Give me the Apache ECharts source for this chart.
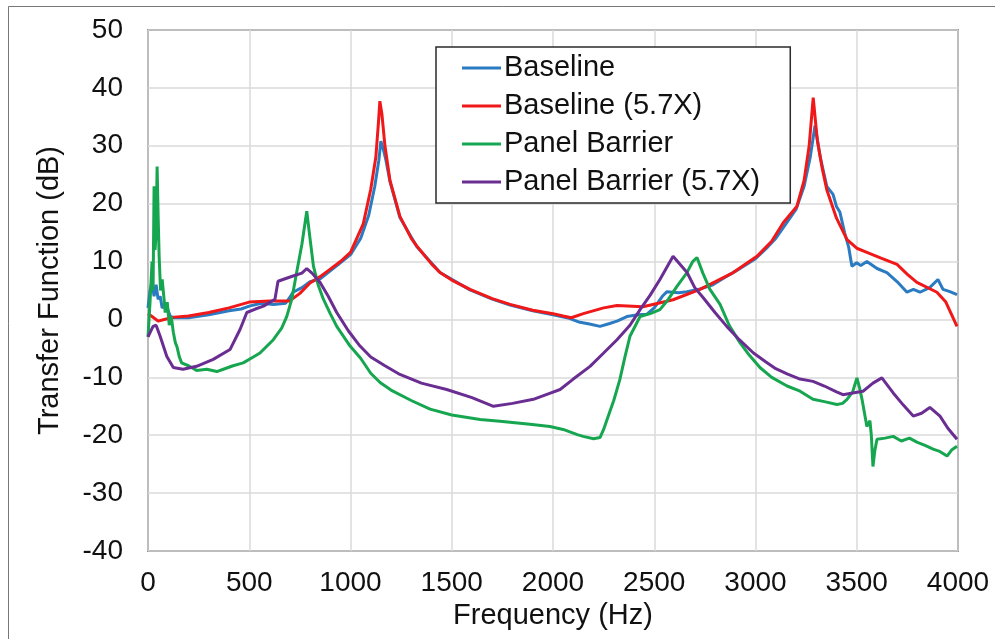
<!DOCTYPE html>
<html>
<head>
<meta charset="utf-8">
<script src="https://cdn.jsdelivr.net/npm/echarts@6/dist/echarts.min.js"></script>
<style>
html,body{margin:0;padding:0;background:#fff;}
#chart{width:995px;height:639px;}
</style>
</head>
<body>
<div id="chart"></div>
<script>
const seriesNames = ['Baseline', 'Baseline (5.7X)', 'Panel Barrier', 'Panel Barrier (5.7X)'];
const xTicks = [0, 500, 1000, 1500, 2000, 2500, 3000, 3500, 4000];
const yTicks = [-40, -30, -20, -10, 0, 10, 20, 30, 40, 50];

const baseline = [[0,2],[10,5],[20,6.5],[30,4],[40,6],[50,3.5],[60,4],[70,2],[90,2.5],[110,0.5],[130,0.3],[200,0.3],[300,0.8],[400,1.5],[460,1.8],[500,2.3],[560,2.8],[620,2.6],[680,2.8],[700,3.8],[716,4.7],[760,5.5],[800,6.5],[850,7],[900,8.4],[950,9.8],[1000,11.2],[1050,14],[1090,18],[1120,23],[1140,27.5],[1150,30.8],[1165,29],[1175,27.5],[1195,23.8],[1244,17.6],[1327,12.6],[1442,8.1],[1590,5.1],[1700,3.5],[1788,2.5],[1900,1.5],[2000,0.8],[2080,0.2],[2133,-0.5],[2180,-0.8],[2232,-1.2],[2280,-0.7],[2316,-0.3],[2365,0.5],[2420,0.8],[2464,0.9],[2500,2],[2540,4],[2563,4.8],[2620,4.6],[2662,4.8],[2720,5.2],[2790,6],[2850,7.3],[2900,8.3],[3000,10.5],[3060,12.5],[3100,14],[3150,16.5],[3200,19],[3240,23],[3270,28],[3294,33.5],[3320,28],[3352,23],[3383,21.6],[3400,19.5],[3417,18.5],[3440,15],[3460,12.5],[3476,9.2],[3500,9.8],[3520,9.3],[3550,10],[3600,8.8],[3649,8.1],[3700,6.5],[3748,4.7],[3780,5.2],[3812,4.7],[3860,5.5],[3901,6.9],[3926,5.2],[3960,4.8],[3995,4.3]];

const baseline57 = [[0,1],[20,0.5],[50,-0.3],[80,0],[130,0.4],[200,0.6],[300,1.2],[400,2],[500,3],[600,3.2],[700,3.2],[750,4.5],[800,6.3],[850,7.4],[900,8.7],[950,10],[1000,11.6],[1063,16.5],[1100,22.5],[1125,28],[1138,34],[1145,37.7],[1155,35.5],[1170,30],[1195,24],[1244,17.8],[1300,14],[1327,12.7],[1400,9.6],[1442,8.1],[1500,6.8],[1590,5.2],[1700,3.6],[1788,2.6],[1900,1.6],[2000,1],[2050,0.6],[2090,0.3],[2150,1],[2250,2],[2316,2.4],[2444,2.2],[2520,2.8],[2593,3.4],[2726,5.2],[2800,6.5],[2890,8.1],[3007,10.9],[3080,13.5],[3137,16.7],[3204,19.5],[3240,24],[3265,30],[3285,38.3],[3305,31],[3330,26],[3352,22.4],[3400,17.5],[3452,13.8],[3500,12.3],[3550,11.6],[3620,10.6],[3699,9.5],[3750,7.8],[3797,6.4],[3896,4.7],[3940,3],[3995,-1.2]];

const panel = [[0,-3],[10,3],[20,10],[25,5],[30,23],[35,12],[40,15],[45,26.4],[50,18],[55,10.9],[62,5],[70,6.9],[78,4],[85,1.2],[95,3],[105,-1],[115,0.5],[125,-2.2],[135,-4],[143,-4.7],[155,-6.5],[166,-7.5],[200,-8],[240,-8.8],[290,-8.6],[340,-9],[372,-8.6],[420,-8],[470,-7.5],[520,-6.5],[553,-5.8],[619,-3.5],[660,-1.5],[685,0.5],[710,3.5],[734,8.1],[760,13],[784,18.7],[800,14],[817,9.2],[840,6],[866,3.5],[900,1],[932,-1.2],[998,-4.6],[1050,-6.7],[1100,-9.3],[1146,-10.9],[1200,-12.2],[1300,-14],[1393,-15.5],[1500,-16.5],[1640,-17.3],[1738,-17.6],[1886,-18.1],[1985,-18.5],[2050,-19],[2120,-19.9],[2149,-20.2],[2200,-20.6],[2232,-20.4],[2250,-19],[2267,-17.3],[2300,-14],[2330,-10.4],[2355,-6.5],[2380,-2.9],[2430,0.5],[2480,1],[2528,1.7],[2570,3.5],[2612,5.7],[2660,8],[2690,10],[2711,10.7],[2740,8],[2775,5.2],[2825,2.6],[2870,-1],[2923,-4],[2970,-6.2],[3022,-8.3],[3080,-10],[3156,-11.5],[3220,-12.4],[3284,-13.8],[3340,-14.2],[3402,-14.7],[3430,-14.5],[3452,-13.8],[3480,-12.5],[3501,-10.1],[3515,-12],[3526,-13.8],[3550,-18.5],[3565,-17.5],[3572,-20],[3580,-25.4],[3590,-22.5],[3600,-20.7],[3640,-20.5],[3680,-20.2],[3720,-21],[3760,-20.5],[3797,-21.2],[3840,-21.8],[3877,-22.4],[3910,-22.8],[3946,-23.6],[3970,-22.5],[3995,-21.9]];

const panel57 = [[0,-3],[25,-1.2],[40,-1],[60,-2.9],[93,-6.4],[125,-8.3],[173,-8.6],[240,-8.1],[322,-6.9],[405,-5.2],[455,-1.7],[488,1.2],[530,1.8],[570,2.3],[627,3.5],[642,6.6],[716,7.5],[760,8],[784,8.8],[810,8],[850,6.4],[890,4],[932,1.2],[990,-2],[1047,-4.6],[1100,-6.5],[1170,-8],[1244,-9.5],[1350,-11],[1475,-12.1],[1600,-13.5],[1706,-15],[1800,-14.5],[1903,-13.8],[1980,-12.8],[2035,-12.1],[2100,-10.3],[2183,-8.1],[2250,-5.8],[2316,-3.5],[2380,-1],[2430,1.7],[2480,4.2],[2528,6.9],[2593,10.9],[2662,8.1],[2700,5.5],[2741,3.8],[2800,1.2],[2858,-1.2],[2920,-3.5],[2990,-5.8],[3050,-7.3],[3100,-8.5],[3156,-9.4],[3220,-10.3],[3284,-10.7],[3340,-11.5],[3400,-12.5],[3432,-13],[3480,-12.7],[3531,-12.4],[3580,-11],[3624,-10.1],[3680,-12.7],[3730,-14.8],[3779,-16.7],[3820,-16.2],[3861,-15.2],[3911,-16.7],[3950,-18.8],[3995,-20.7]];

const colors = ['#2a7bc2', '#f01818', '#17a650', '#6a2e92'];
const FONT = '"Liberation Sans", Arial, sans-serif';

const chart = echarts.init(document.getElementById('chart'), null, {renderer: 'canvas'});
const datasets = [baseline, baseline57, panel, panel57];

chart.setOption({
  animation: false,
  backgroundColor: '#fff',
  graphic: [{
    type: 'rect', silent: true, z: -10,
    shape: {x: 8.5, y: 6.5, width: 1000, height: 700},
    style: {fill: 'none', stroke: '#777', lineWidth: 1}
  }],
  grid: {
    left: 148, right: 37, top: 30, bottom: 88,
    show: true, borderColor: '#3a3a3a', borderWidth: 1.5, backgroundColor: 'transparent'
  },
  legend: {
    show: true,
    data: seriesNames,
    orient: 'vertical',
    left: 436, top: 47,
    padding: [6, 30, 6, 26],
    itemGap: 8,
    itemWidth: 39, itemHeight: 3,
    icon: 'rect',
    borderColor: '#2a2a2a', borderWidth: 1.5,
    backgroundColor: '#fff',
    textStyle: {fontSize: 29, fontFamily: FONT, color: '#111', lineHeight: 30, padding: [0,0,0,-2]}
  },
  xAxis: {
    type: 'value', min: 0, max: 4000, interval: 500,
    name: 'Frequency (Hz)', nameLocation: 'middle', nameGap: 50,
    nameTextStyle: {fontSize: 29, fontFamily: FONT, color: '#111'},
    axisLine: {show: false}, axisTick: {show: false},
    axisLabel: {fontSize: 28, fontFamily: FONT, color: '#111', margin: 18,
      formatter: v => xTicks.includes(v) ? String(v) : ''},
    splitLine: {show: true, lineStyle: {color: '#dadada', width: 1.5}}
  },
  yAxis: {
    type: 'value', min: -40, max: 50, interval: 10,
    name: 'Transfer Function (dB)', nameLocation: 'middle', nameGap: 84,
    nameTextStyle: {fontSize: 29, fontFamily: FONT, color: '#111'},
    axisLine: {show: false}, axisTick: {show: false},
    axisLabel: {fontSize: 28, fontFamily: FONT, color: '#111', margin: 25,
      formatter: v => yTicks.includes(v) ? String(v) : ''},
    splitLine: {show: true, lineStyle: {color: '#dadada', width: 1.5}}
  },
  series: datasets.map((d, i) => ({
    name: seriesNames[i],
    type: 'line',
    data: d,
    showSymbol: false,
    symbol: 'none',
    smooth: false,
    clip: true,
    lineStyle: {color: colors[i], width: 3},
    itemStyle: {color: colors[i]},
    z: 2 + i
  }))
});
</script>
</body>
</html>
